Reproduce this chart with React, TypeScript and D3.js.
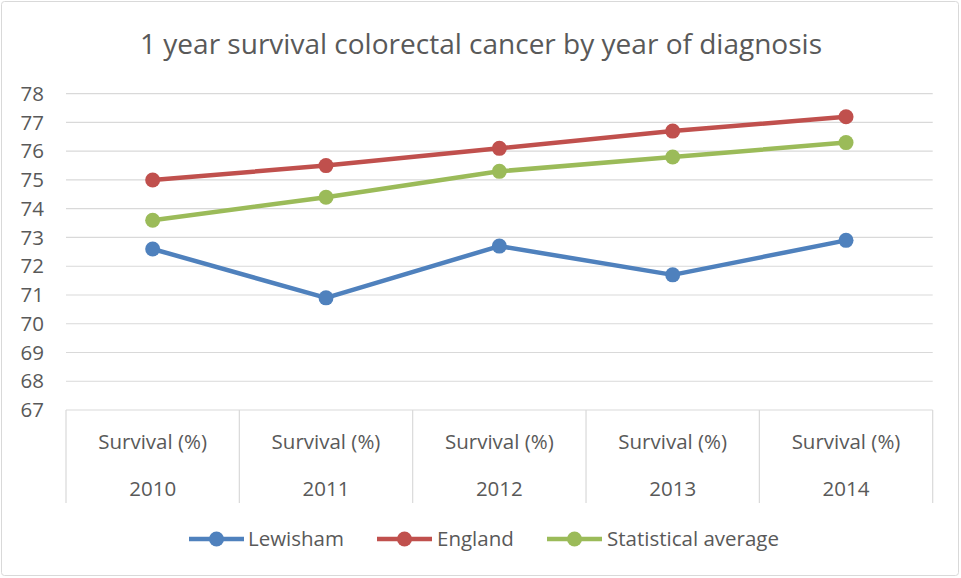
import { scaleLinear, scaleBand, line } from "d3";

const years = ["2010", "2011", "2012", "2013", "2014"];
const subLabel = "Survival (%)";
const lewisham = [72.6, 70.9, 72.7, 71.7, 72.9];
const england = [75.0, 75.5, 76.1, 76.7, 77.2];
const statAverage = [73.6, 74.4, 75.3, 75.8, 76.3];
const yTicks = [67, 68, 69, 70, 71, 72, 73, 74, 75, 76, 77, 78];

const seriesNames = ["Lewisham", "England", "Statistical average"];
const seriesColors = ["#4f81bd", "#c0504d", "#9bbb59"];

const W = 961;
const H = 578;
const font = "Open Sans, Calibri, sans-serif";
const textColor = "#595959";
const gridColor = "#d9d9d9";

export default function App() {
  const x = scaleBand().domain(years).range([66, 932.7]);
  const y = scaleLinear().domain([67, 78]).range([410, 93.7]);

  const series = [lewisham, england, statAverage];
  const pathGen = line<number>()
    .x((d, i) => x(years[i])! + x.bandwidth() / 2)
    .y((d) => y(d));

  const boundaries = [...years.map((yr) => x(yr)!), x.range()[1]];

  // legend positions (line start, text start)
  const legendItems = [
    { x0: 189, tx: 248 },
    { x0: 377, tx: 437 },
    { x0: 547, tx: 607 },
  ];

  return (
    <svg
      width={W}
      height={H}
      style={{ position: "absolute", left: 0, top: 0, background: "#fff" }}
      fontFamily={font}
    >
      <rect x={1.5} y={1.5} width={W - 4} height={H - 4} rx={3} fill="#fff" stroke={gridColor} />

      <text x={481} y={54} textAnchor="middle" fontSize={27} fill={textColor}
        textLength={682} lengthAdjust="spacingAndGlyphs">
        1 year survival colorectal cancer by year of diagnosis
      </text>

      {/* gridlines + y labels */}
      {yTicks.map((t) => (
        <g key={t}>
          {t !== 67 && (
            <line x1={x.range()[0]} x2={x.range()[1]} y1={y(t)} y2={y(t)} stroke={gridColor} strokeWidth={1.2} />
          )}
          <text x={44} y={y(t)} dy="0.35em" textAnchor="end" fontSize={20.5} fill={textColor}>
            {t}
          </text>
        </g>
      ))}

      {/* category axis */}
      <line x1={x.range()[0]} x2={x.range()[1]} y1={y(67)} y2={y(67)} stroke={gridColor} strokeWidth={1.2} />
      {boundaries.map((b, i) => (
        <line key={i} x1={b} x2={b} y1={y(67)} y2={503} stroke={gridColor} strokeWidth={1.2} />
      ))}
      {years.map((yr) => (
        <g key={yr}>
          <text x={x(yr)! + x.bandwidth() / 2} y={442} dy="0.35em" textAnchor="middle" fontSize={20.5} fill={textColor}>
            {subLabel}
          </text>
          <text x={x(yr)! + x.bandwidth() / 2} y={489} dy="0.35em" textAnchor="middle" fontSize={20.5} fill={textColor}>
            {yr}
          </text>
        </g>
      ))}

      {/* series */}
      {series.map((s, si) => (
        <g key={si}>
          <path d={pathGen(s)!} fill="none" stroke={seriesColors[si]} strokeWidth={4.5} strokeLinejoin="round" />
          {s.map((v, i) => (
            <circle key={i} cx={x(years[i])! + x.bandwidth() / 2} cy={y(v)} r={7.5} fill={seriesColors[si]} />
          ))}
        </g>
      ))}

      {/* legend */}
      {legendItems.map((it, i) => (
        <g key={i}>
          <line x1={it.x0} x2={it.x0 + 55} y1={539} y2={539} stroke={seriesColors[i]} strokeWidth={4.5} />
          <circle cx={it.x0 + 27.5} cy={539} r={7.5} fill={seriesColors[i]} />
          <text x={it.tx} y={539} dy="0.35em" fontSize={20.5} fill={textColor}>
            {seriesNames[i]}
          </text>
        </g>
      ))}
    </svg>
  );
}
